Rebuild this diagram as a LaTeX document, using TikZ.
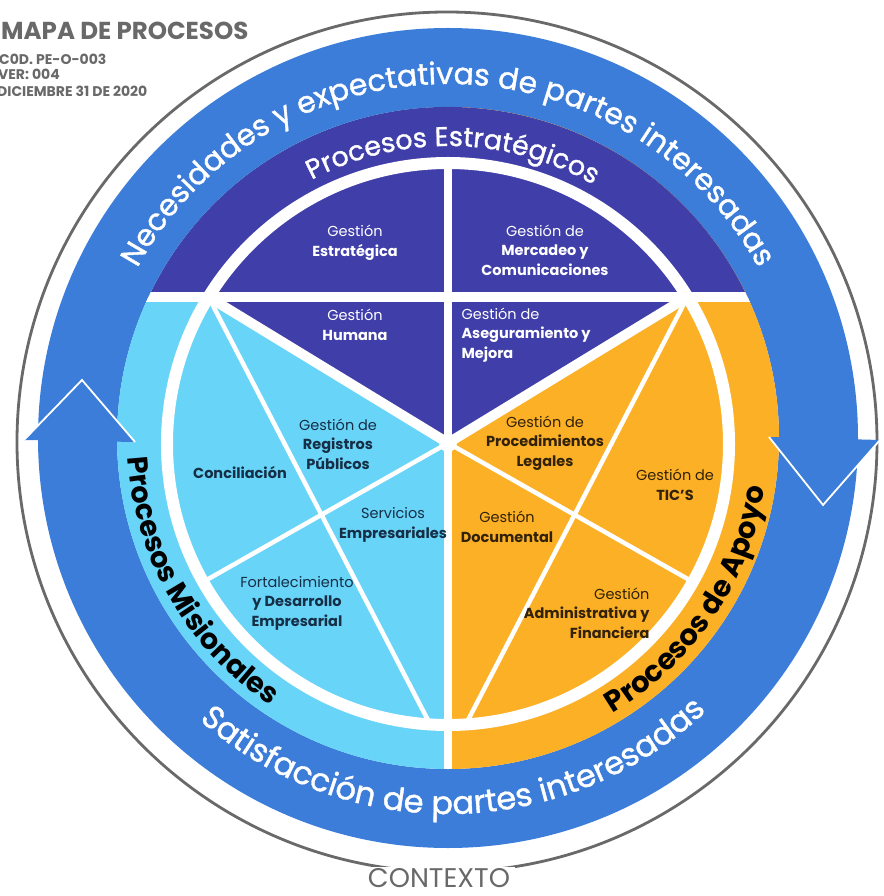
\documentclass[tikz,border=0pt]{standalone}
\usepackage{fontspec}
\setmainfont{Poppins}
\newfontfamily\ringfont{Poppins}[FakeBold=1.2]
\usepackage{xcolor}
\usepackage{tikz}
\usetikzlibrary{decorations.text}
\definecolor{clrRingfill}{RGB}{60,125,217}
\definecolor{clrEstrafill}{RGB}{64,62,168}
\definecolor{clrMisionfill}{RGB}{104,212,248}
\definecolor{clrApoyofill}{RGB}{252,176,38}
\definecolor{clrContext}{RGB}{105,105,105}
\definecolor{clrMisiontext}{RGB}{22,46,70}
\definecolor{clrApoyotext}{RGB}{50,34,10}
\tikzset{
  gapthick/.style={draw=white, line width=10pt, line cap=round},
  gapthin/.style={draw=white, line width=4.5pt},
  headedge/.style={draw=white, line width=1.8pt, line join=miter},
  estranode/.style={text=white, align=center, font=\fontsize{14.5}{19.5}\selectfont},
  misionnode/.style={text=clrMisiontext, align=center, font=\fontsize{14.5}{19.5}\selectfont},
  apoyonode/.style={text=clrApoyotext, align=center, font=\fontsize{14.5}{19.5}\selectfont},
  headnode/.style={text=clrContext, anchor=base west, inner sep=0pt},
  arctext/.style={decorate, decoration={text along path, text align=center, text color=#1}}
}

\begin{document}
\begin{tikzpicture}[x=1pt, y=1pt]

\fill[white] (-448,-458) rectangle (435,438);
\useasboundingbox (-448,-458) rectangle (435,438);

% stakeholder ring
\fill[clrRingfill, even odd rule] (0,0) circle (410) (0,0) circle (331);

% context circle
\draw[draw=clrContext, line width=2.8pt] (-1,-4) circle[radius=430pt];
\node[fill=white, text=clrContext, font=\fontsize{27}{30}\selectfont, inner xsep=5pt, inner ysep=1pt]
  (contexto) at (-9,-440) {CONTEXTO};

% process sectors
\coordinate (hub) at (0,-5);
\coordinate (jl) at (-239.5,141);
\coordinate (jr) at (239.5,141);
\fill[clrMisionfill] (0,-331) arc[start angle=270, end angle=90, radius=331] -- cycle;
\fill[clrApoyofill] (0,-331) arc[start angle=-90, end angle=90, radius=331] -- cycle;
\fill[clrEstrafill] (25.2:331) arc[start angle=25.2, end angle=154.8, radius=331]
  -- (jl) -- (hub) -- (jr) -- cycle;

\coordinate (misA) at (-18,-286);
\coordinate (misB) at (-245,-144);
\coordinate (apoA) at (18,-286);
\coordinate (apoB) at (245,-144);
\coordinate (ringtop) at (0,275);
\coordinate (discbot) at (0,-335);
\begin{scope}
  \clip (0,0) circle (331);
  \draw[gapthick, line cap=butt] (-335,141) -- (335,141);
  \draw[gapthick, line width=8pt, line cap=butt] (ringtop) -- (discbot);
  \draw[white, line width=12pt] (0,-6) circle (281);
  \draw[gapthick] (jl) -- (hub) -- (jr);
  \draw[gapthin] (jl) -- (misA);
  \draw[gapthin] (hub) -- (misB);
  \draw[gapthin] (jr) -- (apoA);
  \draw[gapthin] (hub) -- (apoB);
  \fill[white] (hub) circle (9);
\end{scope}

% arrow heads of the ring
\coordinate (uptip) at (-366,58);
\coordinate (upout) at (-424,-2);
\coordinate (upin) at (-313,-4);
\fill[clrRingfill] (uptip) -- (upout) -- (upin) -- cycle;
\draw[headedge] (upout) -- (uptip) -- (upin);
\coordinate (dntip) at (375,-67);
\coordinate (dnin) at (321,1);
\coordinate (dnout) at (432,-2);
\fill[clrRingfill] (dntip) -- (dnin) -- (dnout) -- cycle;
\draw[headedge] (dnin) -- (dntip) -- (dnout);

% curved labels
\path[arctext=white, decoration={text={|\ringfont\fontsize{30}{32}\selectfont|Necesidades y expectativas de partes interesadas}}]
  (176:354) arc[start angle=176, end angle=4, radius=354];
\path[arctext=white, decoration={text={|\ringfont\fontsize{32}{34}\selectfont|Satisfacción de partes interesadas}}]
  (196:376) arc[start angle=196, end angle=346, radius=376];
\path[arctext=white, decoration={text={|\ringfont\fontsize{27}{30}\selectfont|Procesos Estratégicos}}]
  (150:292) arc[start angle=150, end angle=28, radius=292];
\path[arctext=black, decoration={text={|\fontsize{28.5}{30}\selectfont\bfseries|Procesos Misionales}}]
  (160:321) arc[start angle=160, end angle=260, radius=321];
\path[arctext=black, decoration={text={|\fontsize{29}{31}\selectfont\bfseries|Procesos de Apoyo}}]
  (-84:321) arc[start angle=-84, end angle=16, radius=321];

% strategic processes
\node[estranode] (estrategica) at (-93,195) {Gestión\\\textbf{Estratégica}};
\node[estranode] (mercadeo) at (97,188) {Gestión de\\\textbf{Mercadeo y}\\\textbf{Comunicaciones}};
\node[estranode] (humana) at (-93,113) {Gestión\\\textbf{Humana}};
\node[estranode, align=left, anchor=west] (aseguramiento) at (10,103) {Gestión de\\\textbf{Aseguramiento y}\\\textbf{Mejora}};

% core processes
\node[misionnode] (conciliacion) at (-208,-35) {\textbf{Conciliación}};
\node[misionnode] (registros) at (-110,-6) {Gestión de\\\textbf{Registros}\\\textbf{Públicos}};
\node[misionnode] (servicios) at (-55,-87) {Servicios\\\textbf{Empresariales}};
\node[misionnode] (fortalecimiento) at (-151,-165) {Fortalecimiento\\\textbf{y Desarrollo}\\\textbf{Empresarial}};

% support processes
\node[apoyonode] (legales) at (97,-5) {Gestión de\\\textbf{Procedimientos}\\\textbf{Legales}};
\node[apoyonode] (tics) at (227,-47) {Gestión de\\\textbf{TIC’S}};
\node[apoyonode] (documental) at (59,-89) {Gestión\\\textbf{Documental}};
\node[apoyonode, align=right, anchor=east] (administrativa) at (205,-175) {Gestión\\\textbf{Administrativa y}\\\textbf{Financiera}};

% document header
\node[headnode, font=\fontsize{24.5}{26}\selectfont\bfseries] (mapa) at (-447,398) {MAPA DE PROCESOS};
\node[headnode, font=\fontsize{14}{16}\selectfont\bfseries] (codigo) at (-449,373) {C0D. PE-O-003};
\node[headnode, font=\fontsize{14}{16}\selectfont\bfseries] (version) at (-450,358) {VER: 004};
\node[headnode, font=\fontsize{14}{16}\selectfont\bfseries] (fecha) at (-451,341) {DICIEMBRE 31 DE 2020};

\end{tikzpicture}
\end{document}
